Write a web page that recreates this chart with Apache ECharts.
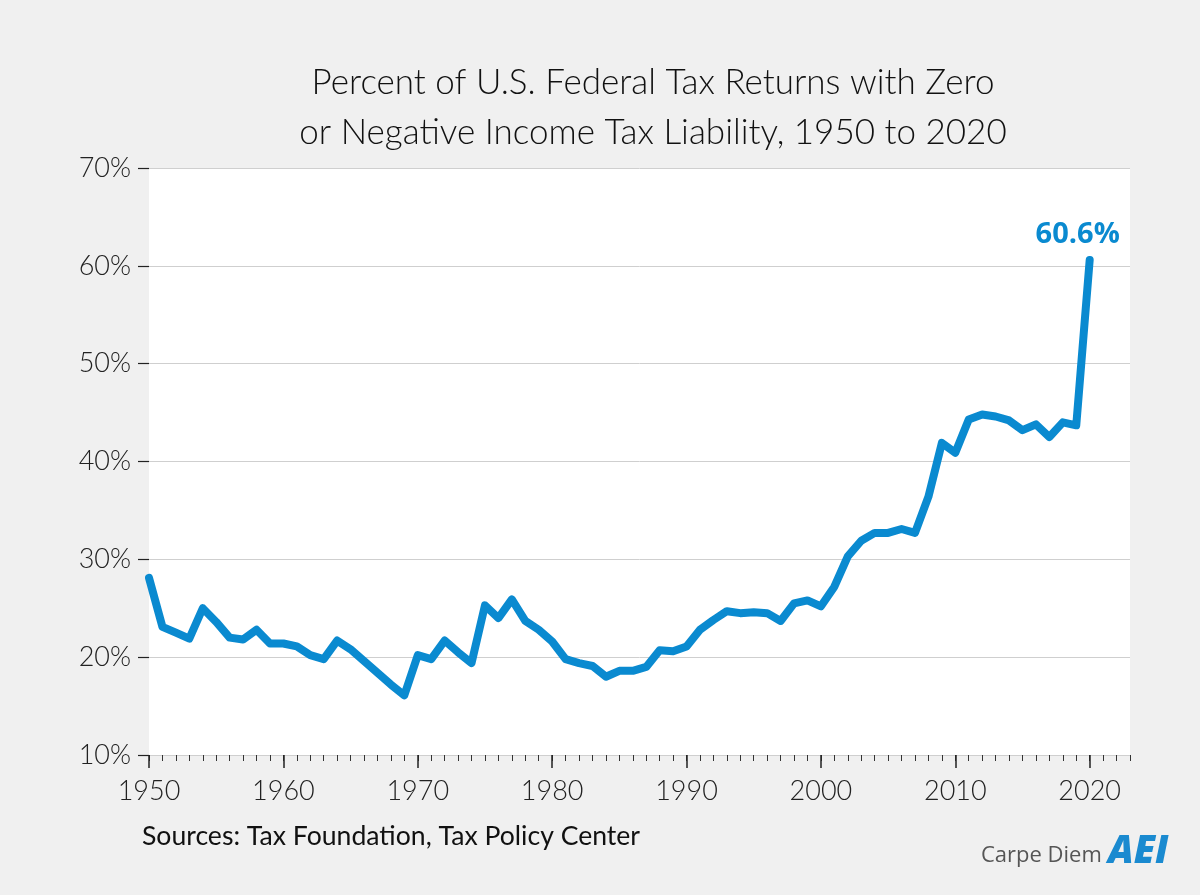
<!DOCTYPE html>
<html>
<head>
<meta charset="utf-8">
<script src="https://cdn.jsdelivr.net/npm/echarts@6/dist/echarts.min.js"></script>
<style>
html,body{margin:0;padding:0;background:#f0f0f0;}
#chart{width:1200px;height:895px;}
</style>
</head>
<body>
<div id="chart"></div>
<script>
// Data
const years = [];
for (let y = 1950; y <= 2020; y++) years.push(String(y));
const axisYears = [];
for (let y = 1950; y <= 2023; y++) axisYears.push(String(y));
const zeroLiabilityPct = [
  28.1, 23.1, 22.5, 21.9, 25.0, 23.6, 22.0, 21.8, 22.8, 21.4,
  21.4, 21.1, 20.2, 19.8, 21.7, 20.8, 19.6, 18.4, 17.2, 16.1,
  20.2, 19.8, 21.7, 20.5, 19.4, 25.3, 24.0, 25.9, 23.7, 22.8,
  21.6, 19.8, 19.4, 19.1, 18.0, 18.6, 18.6, 19.0, 20.7, 20.6,
  21.1, 22.8, 23.8, 24.7, 24.5, 24.6, 24.5, 23.7, 25.5, 25.8,
  25.2, 27.2, 30.3, 31.9, 32.7, 32.7, 33.1, 32.7, 36.4, 41.9,
  40.9, 44.3, 44.8, 44.6, 44.2, 43.2, 43.8, 42.5, 44.0, 43.7,
  60.6
];
const yTicks = [10, 20, 30, 40, 50, 60, 70];
const titleLines = ['Percent of U.S. Federal Tax Returns with Zero', 'or Negative Income Tax Liability, 1950 to 2020'];
const sourceText = 'Sources: Tax Foundation, Tax Policy Center';

const BLUE = '#0a8ad0';
const AXISFONT = 'Lato';

const seriesData = zeroLiabilityPct.map((v, i) => {
  if (i === zeroLiabilityPct.length - 1) {
    return {
      value: v,
      symbol: 'circle', symbolSize: 2,
      label: {
        show: true, position: 'top', distance: 10, offset: [-12, 0],
        formatter: '{c}%', color: BLUE, fontSize: 29, fontWeight: 'bold',
        fontFamily: 'Open Sans'
      }
    };
  }
  return { value: v, symbol: 'none' };
});

const chart = echarts.init(document.getElementById('chart'));
chart.setOption({
  backgroundColor: '#f0f0f0',
  animation: false,
  title: {
    text: titleLines.join('\n'),
    left: 648, top: 53, textAlign: 'center',
    textStyle: { fontFamily: 'Lato', fontWeight: 300, fontSize: 35, lineHeight: 50, color: '#111' }
  },
  grid: { left: 149, right: 70, top: 168, bottom: 140, backgroundColor: '#ffffff', show: true, borderWidth: 0 },
  xAxis: [
    {
      type: 'category', data: axisYears, boundaryGap: false,
      axisLine: { show: false },
      axisTick: { show: true, length: 6, lineStyle: { color: '#333', width: 1 }, interval: 0 },
      axisLabel: { show: false },
      splitLine: { show: false }
    },
    {
      type: 'category', data: axisYears, boundaryGap: false, position: 'bottom',
      axisLine: { show: false },
      axisTick: { show: true, length: 13, lineStyle: { color: '#222', width: 1.5 },
        interval: (i, v) => Number(v) % 10 === 0 },
      axisLabel: { show: true, interval: (i, v) => Number(v) % 10 === 0, margin: 23,
        fontFamily: AXISFONT, fontWeight: 300, fontSize: 27, color: '#222' },
      splitLine: { show: false }
    }
  ],
  yAxis: {
    type: 'value', min: 10, max: 70, interval: 10,
    axisLine: { show: false },
    axisTick: { show: true, length: 11, lineStyle: { color: '#222', width: 1.2 } },
    axisLabel: { margin: 18, formatter: v => yTicks.includes(v) ? v + '%' : '',
      fontFamily: AXISFONT, fontWeight: 300, fontSize: 27, color: '#222' },
    splitLine: { show: true, lineStyle: { color: '#cfcfcf', width: 1 } }
  },
  series: [{
    type: 'line', xAxisIndex: 0, data: seriesData,
    showSymbol: true,
    itemStyle: { color: BLUE },
    lineStyle: { color: BLUE, width: 8, join: 'round', cap: 'round' },
    z: 5
  }],
  graphic: [
    { type: 'text', left: 142, top: 823,
      style: { text: sourceText, font: '400 26.6px Lato', fill: '#111' } },
    { type: 'text', left: 981, top: 845,
      style: { text: 'Carpe Diem', font: '400 22px "Open Sans"', fill: '#555' } },
    { type: 'text', left: 1108, top: 833,
      style: { text: 'AEI', font: 'italic 900 38px "Open Sans"', fill: '#1a8ad0' } }
  ]
});
</script>
</body>
</html>
